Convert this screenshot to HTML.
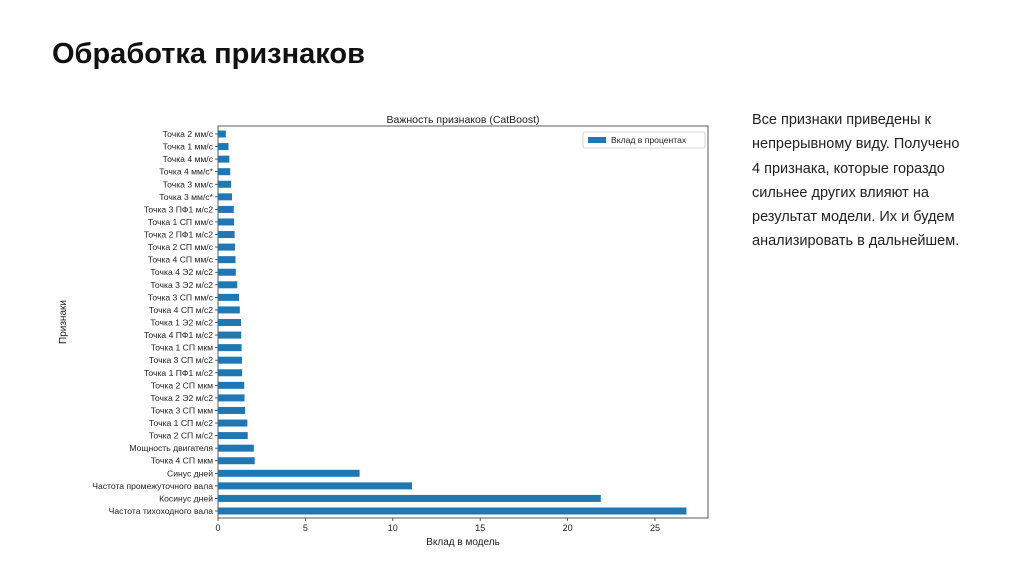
<!DOCTYPE html>
<html><head><meta charset="utf-8"><style>
body{margin:0;width:1024px;height:574px;background:#fff;overflow:hidden;font-family:"Liberation Sans","DejaVu Sans",sans-serif;position:relative}
h1{position:absolute;left:52px;top:38px;margin:0;font-size:29px;font-weight:bold;color:#111}
.desc{position:absolute;left:752px;top:108px;font-size:14.5px;line-height:24.3px;color:#222;width:250px}
svg{position:absolute;left:0;top:0}
</style></head><body>
<h1>Обработка признаков</h1>
<div class="desc">Все признаки приведены к<br>непрерывному виду. Получено<br>4 признака, которые гораздо<br>сильнее других влияют на<br>результат модели. Их и будем<br>анализировать в дальнейшем.</div>
<svg id="chart" width="1024" height="574"></svg>
<script>
const categories=["Точка 2 мм/с","Точка 1 мм/с","Точка 4 мм/с","Точка 4 мм/с*","Точка 3 мм/с","Точка 3 мм/с*","Точка 3 ПФ1 м/с2","Точка 1 СП мм/с","Точка 2 ПФ1 м/с2","Точка 2 СП мм/с","Точка 4 СП мм/с","Точка 4 Э2 м/с2","Точка 3 Э2 м/с2","Точка 3 СП мм/с","Точка 4 СП м/с2","Точка 1 Э2 м/с2","Точка 4 ПФ1 м/с2","Точка 1 СП мкм","Точка 3 СП м/с2","Точка 1 ПФ1 м/с2","Точка 2 СП мкм","Точка 2 Э2 м/с2","Точка 3 СП мкм","Точка 1 СП м/с2","Точка 2 СП м/с2","Мощность двигателя","Точка 4 СП мкм","Синус дней","Частота промежуточного вала","Косинус дней","Частота тихоходного вала"];
const values=[0.45,0.6,0.65,0.7,0.75,0.8,0.9,0.92,0.95,0.97,1.0,1.02,1.1,1.2,1.25,1.32,1.33,1.35,1.37,1.38,1.5,1.52,1.55,1.68,1.7,2.05,2.1,8.1,11.1,21.9,26.8];
const xTicks=[0,5,10,15,20,25];
const NS="http://www.w3.org/2000/svg",svg=document.getElementById('chart');
const L=218,R=708,T=126,B=518,firstY=134,lastY=511;
const x=v=>L+v*(655-218)/25;
const y=i=>firstY+i*(lastY-firstY)/(categories.length-1);
function mk(t,a,txt){const e=document.createElementNS(NS,t);for(const k in a)e.setAttribute(k,a[k]);if(txt!==undefined)e.textContent=txt;svg.appendChild(e);return e;}
let e=mk('rect',{x:L,y:T,width:R-L,height:B-T,fill:'none',stroke:'#333','stroke-width':0.8});


categories.forEach((c,i)=>{
 let b=mk('rect',{x:L,y:y(i)-3.5,width:x(values[i])-L,height:7,fill:'#1f77b4'});
 
 
 mk('line',{x1:L-3,x2:L,y1:y(i),y2:y(i),stroke:'#333','stroke-width':0.8});
 let t=mk('text',{x:L-5,y:y(i)+3,'text-anchor':'end','font-size':8.6,fill:'#222'},c);
 
 
});
xTicks.forEach(v=>{
 mk('line',{x1:x(v),x2:x(v),y1:B,y2:B+3,stroke:'#333','stroke-width':0.8});
 let t=mk('text',{x:x(v),y:B+13,'text-anchor':'middle','font-size':9,fill:'#222'},v);
 
 
});
e=mk('text',{x:463,y:123,'text-anchor':'middle','font-size':10.5,fill:'#222'},'Важность признаков (CatBoost)');


e=mk('text',{x:463,y:545,'text-anchor':'middle','font-size':10,fill:'#222'},'Вклад в модель');


e=mk('text',{x:66,y:322,'text-anchor':'middle','font-size':10,fill:'#222',transform:'rotate(-90 66 322)'},'Признаки');


e=mk('rect',{x:583,y:132,width:122,height:16,fill:'#fff',stroke:'#ccc','stroke-width':0.8,rx:2});


mk('rect',{x:588,y:137,width:18,height:6,fill:'#1f77b4'});
e=mk('text',{x:611,y:143,'font-size':8.6,fill:'#222'},'Вклад в процентах');


</script>
</body></html>
